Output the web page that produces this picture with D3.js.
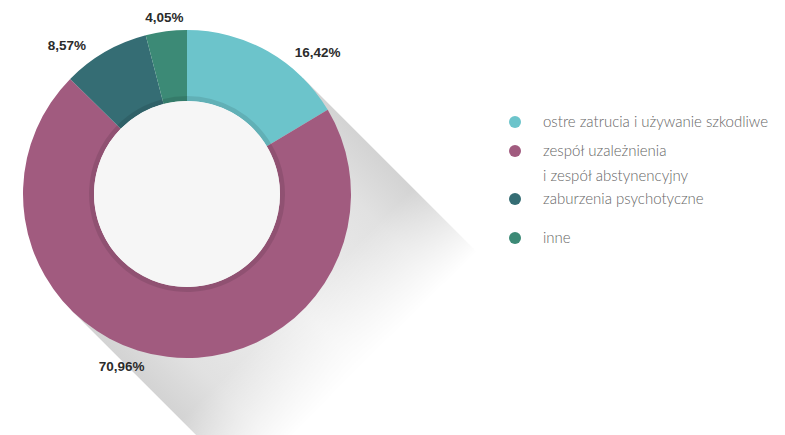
<!DOCTYPE html>
<html lang="pl">
<head>
<meta charset="UTF-8">
<title>Donut</title>
<script src="https://d3js.org/d3.v7.min.js"></script>
<style>
  html, body { margin: 0; padding: 0; background: #fff; }
  svg { display: block; }
  .pct { font-family: "Liberation Sans", Arial, sans-serif; font-weight: bold; font-size: 13.5px; fill: #2b2b2b; }
  .leg { font-family: Lato, "Open Sans", sans-serif; font-weight: 300; font-size: 15px; fill: #666; }
</style>
</head>
<body>
<svg id="chart" width="785" height="435"></svg>
<script>
  // data
  const categories = [
    ["ostre zatrucia i używanie szkodliwe"],
    ["zespół uzależnienia", "i zespół abstynencyjny"],
    ["zaburzenia psychotyczne"],
    ["inne"]
  ];
  const values = [16.42, 70.96, 8.57, 4.05];
  const labels = ["16,42%", "70,96%", "8,57%", "4,05%"];
  const colors = ["#6cc4cb", "#a15b7f", "#356d74", "#3c8a76"];

  // label nudges (degrees, radius) - layout only
  const labelShift = [13, 14, -9, 0];
  const labelRadius = [193, 184, 191, 178];

  const svg = d3.select("#chart");
  const cx = 187, cy = 194, R = 164, r = 93;
  const s = R / Math.SQRT2, L = 420;

  const defs = svg.append("defs");
  // shadow colour across the band: darker at the edges
  const across = defs.append("linearGradient")
    .attr("id", "across")
    .attr("gradientUnits", "userSpaceOnUse")
    .attr("x1", -s).attr("y1", s)
    .attr("x2", s).attr("y2", -s);
  [[0, "#d3d3d3"], [0.15, "#e1e1e1"], [0.5, "#eeeeee"], [0.85, "#e1e1e1"], [1, "#d3d3d3"]]
    .forEach(([o, c]) => across.append("stop").attr("offset", o).attr("stop-color", c));

  // fade along the shadow direction
  const along = defs.append("linearGradient")
    .attr("id", "along")
    .attr("gradientUnits", "userSpaceOnUse")
    .attr("x1", 0).attr("y1", 0)
    .attr("x2", 290).attr("y2", 290);
  [[0.38, "#fff"], [0.47, "#999"], [0.6, "#000"]]
    .forEach(([o, c]) => along.append("stop").attr("offset", o).attr("stop-color", c));
  defs.append("mask")
    .attr("id", "fade")
    .attr("maskUnits", "userSpaceOnUse")
    .attr("x", -400).attr("y", -400).attr("width", 1200).attr("height", 1200)
    .append("rect")
    .attr("x", -400).attr("y", -400).attr("width", 1200).attr("height", 1200)
    .attr("fill", "url(#along)");

  const g = svg.append("g").attr("transform", `translate(${cx},${cy})`);

  // long shadow to bottom-right
  g.append("path")
    .attr("d", `M${s},${-s} L${s + L},${-s + L} L${-s + L},${s + L} L${-s},${s} Z`)
    .attr("fill", "url(#across)")
    .attr("mask", "url(#fade)");

  const pie = d3.pie().value(d => d).sort(null);
  const arcs = pie(values);
  const arc = d3.arc().innerRadius(r).outerRadius(R);
  const innerBand = d3.arc().innerRadius(r).outerRadius(r + 5);

  g.selectAll("path.slice")
    .data(arcs)
    .join("path")
    .attr("class", "slice")
    .attr("d", arc)
    .attr("fill", (d, i) => colors[i]);

  g.selectAll("path.band")
    .data(arcs)
    .join("path")
    .attr("class", "band")
    .attr("d", innerBand)
    .attr("fill", "#000")
    .attr("opacity", 0.1);

  g.append("circle").attr("r", r).attr("fill", "#f6f6f6");

  // percentage labels
  g.selectAll("text.pct")
    .data(arcs)
    .join("text")
    .attr("class", "pct")
    .attr("text-anchor", "middle")
    .attr("dy", "0.35em")
    .attr("transform", (d, i) => {
      const a = (d.startAngle + d.endAngle) / 2 + labelShift[i] * Math.PI / 180;
      return `translate(${Math.sin(a) * labelRadius[i]},${-Math.cos(a) * labelRadius[i]})`;
    })
    .text((d, i) => labels[i]);

  // legend
  const legendY = [122, 151, 199, 238];
  const items = svg.append("g").selectAll("g")
    .data(categories)
    .join("g")
    .attr("transform", (d, i) => `translate(515,${legendY[i]})`);
  items.append("circle").attr("r", 6).attr("fill", (d, i) => colors[i]);
  items.append("text")
    .attr("class", "leg")
    .selectAll("tspan")
    .data(d => d)
    .join("tspan")
    .attr("x", 28)
    .attr("y", (d, j) => j * 25)
    .attr("dy", "0.35em")
    .text(d => d);
</script>
</body>
</html>
